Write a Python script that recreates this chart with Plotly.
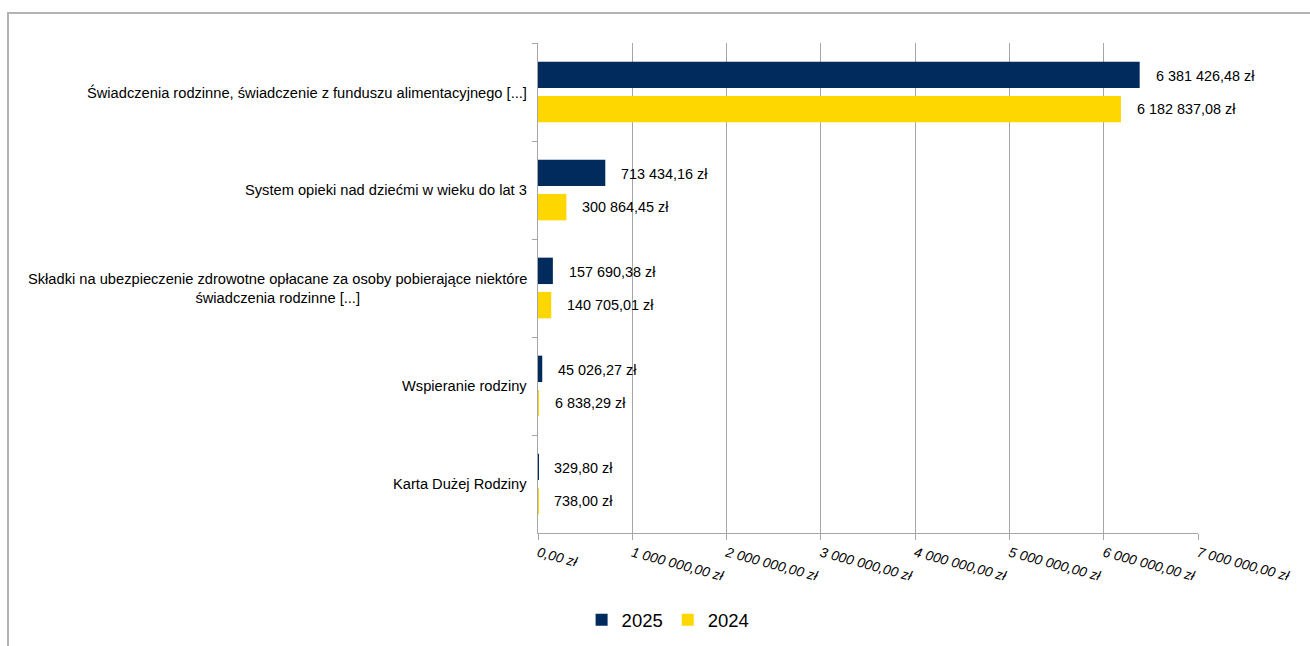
import plotly.graph_objects as go

categories = [
    "Świadczenia rodzinne, świadczenie z funduszu alimentacyjnego [...]",
    "System opieki nad dziećmi w wieku do lat 3",
    "Składki na ubezpieczenie zdrowotne opłacane za osoby pobierające niektóre<br>świadczenia rodzinne [...]",
    "Wspieranie rodziny",
    "Karta Dużej Rodziny",
]
values_2025 = [6381426.48, 713434.16, 157690.38, 45026.27, 329.80]
values_2024 = [6182837.08, 300864.45, 140705.01, 6838.29, 738.00]
labels_2025 = ["6 381 426,48 zł", "713 434,16 zł", "157 690,38 zł", "45 026,27 zł", "329,80 zł"]
labels_2024 = ["6 182 837,08 zł", "300 864,45 zł", "140 705,01 zł", "6 838,29 zł", "738,00 zł"]
tick_vals = [0, 1000000, 2000000, 3000000, 4000000, 5000000, 6000000, 7000000]
tick_text = ["0,00 zł", "1 000 000,00 zł", "2 000 000,00 zł", "3 000 000,00 zł",
             "4 000 000,00 zł", "5 000 000,00 zł", "6 000 000,00 zł", "7 000 000,00 zł"]

NAVY = "#002B5C"
YELLOW = "#FFD700"
FONT = "Liberation Sans, Arial, sans-serif"
LBL = 14.4

fig = go.Figure()
fig.add_trace(go.Bar(name="2025", y=categories, x=values_2025, orientation="h",
                     marker=dict(color=NAVY, line=dict(width=0))))
fig.add_trace(go.Bar(name="2024", y=categories, x=values_2024, orientation="h",
                     marker=dict(color=YELLOW, line=dict(width=0))))

annotations = []
for c, v, t in zip(categories, values_2025, labels_2025):
    annotations.append(dict(x=v, y=c, xref="x", yref="y", text=t, showarrow=False,
                            xanchor="left", yanchor="middle", xshift=14, yshift=16.5,
                            font=dict(family=FONT, size=LBL, color="#000")))
for c, v, t in zip(categories, values_2024, labels_2024):
    annotations.append(dict(x=v, y=c, xref="x", yref="y", text=t, showarrow=False,
                            xanchor="left", yanchor="middle", xshift=14, yshift=-16.5,
                            font=dict(family=FONT, size=LBL, color="#000")))
for c in categories:
    annotations.append(dict(x=0, y=c, xref="x", yref="y", text=c, showarrow=False,
                            xanchor="right", yanchor="middle", xshift=-9, align="center",
                            font=dict(family=FONT, size=14.67, color="#000")))

L, R, T, B = 538, 112, 43, 113
W, H = 1310, 646
pw, ph = W - L - R, H - T - B
def px_x(p):
    return (p - L) / pw
def px_y(p):
    return (H - B - p) / ph

shapes = [
    dict(type="line", xref="paper", yref="paper", x0=px_x(8), x1=px_x(8), y0=px_y(13), y1=px_y(660),
         line=dict(color="#b3b3b3", width=2)),
    dict(type="line", xref="paper", yref="paper", x0=px_x(7), x1=px_x(1320), y0=px_y(13), y1=px_y(13),
         line=dict(color="#b3b3b3", width=2)),
]

fig.update_layout(
    width=W, height=H,
    margin=dict(l=L, r=R, t=T, b=B, pad=0),
    paper_bgcolor="white", plot_bgcolor="white",
    barmode="group", bargap=0.30, bargroupgap=0.23,
    font=dict(family=FONT, size=14, color="#000"),
    xaxis=dict(range=[0, 7000000], tickvals=tick_vals, ticktext=tick_text,
               tickangle=15, tickfont=dict(family=FONT, size=13.8, style="italic", color="#000"),
               showgrid=True, gridcolor="#a6a6a6", gridwidth=1,
               showline=True, linecolor="#a6a6a6", linewidth=1,
               ticks="outside", ticklen=6, tickcolor="#a6a6a6", zeroline=False,
               fixedrange=True),
    yaxis=dict(autorange="reversed", showticklabels=False,
               showline=True, linecolor="#a6a6a6", linewidth=1,
               ticks="outside", ticklen=5, tickcolor="#a6a6a6", tickson="boundaries",
               showgrid=False, fixedrange=True),
    legend=dict(orientation="h", xref="container", yref="container", x=0.51, y=0.04,
                xanchor="center", yanchor="middle",
                font=dict(family=FONT, size=18.5, color="#000"),
                itemwidth=30, traceorder="normal"),
    annotations=annotations,
    shapes=shapes,
)

fig.write_html("out.html", config={"displayModeBar": False},
               post_script="document.body.style.margin='0';document.body.style.overflow='hidden';")
